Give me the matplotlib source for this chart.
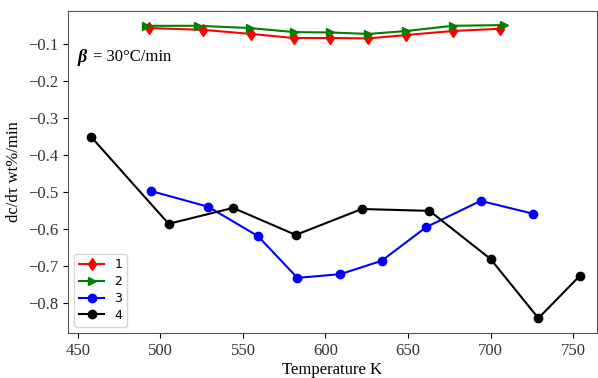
import matplotlib
matplotlib.use("Agg")
import matplotlib.pyplot as plt

# series 1 (red) and 2 (green)
t1 = [493, 526, 555, 581, 603, 626, 649, 677, 706]
r1 = [-0.057, -0.062, -0.073, -0.084, -0.084, -0.085, -0.076, -0.065, -0.059]
t2 = [491, 523, 554, 581, 603, 626, 649, 677, 708]
r2 = [-0.051, -0.051, -0.057, -0.068, -0.069, -0.073, -0.065, -0.051, -0.049]

# series 3 (blue)
t3 = [494, 529, 559, 583, 609, 634, 661, 694, 726]
r3 = [-0.497, -0.540, -0.619, -0.732, -0.722, -0.686, -0.595, -0.524, -0.559]

# series 4 (black)
t4 = [458, 505, 544, 582, 622, 663, 700, 729, 754]
r4 = [-0.351, -0.586, -0.543, -0.616, -0.546, -0.551, -0.681, -0.841, -0.727]

SERIF = ["Liberation Serif", "DejaVu Serif"]

fig = plt.figure(figsize=(5.98, 3.78), dpi=100)
ax = fig.add_axes([68 / 598, 1 - 333 / 378, 529 / 598, 322 / 378])

ax.plot(t1, r1, color="red", marker="d", markersize=6, lw=1.5, label="1")
ax.plot(t2, r2, color="green", marker=">", markersize=6, lw=1.5, label="2")
ax.plot(t3, r3, color="blue", marker="o", markersize=6, lw=1.5, label="3")
ax.plot(t4, r4, color="black", marker="o", markersize=6, lw=1.5, label="4")

ax.set_xlim(444, 764.5)
ax.set_ylim(-0.881, -0.011)
ax.set_xticks([450, 500, 550, 600, 650, 700, 750])
ax.set_yticks([-0.1, -0.2, -0.3, -0.4, -0.5, -0.6, -0.7, -0.8])

for lbl in ax.get_xticklabels() + ax.get_yticklabels():
    lbl.set_family(SERIF)
    lbl.set_fontsize(12)
    lbl.set_color("#333333")

for s in ax.spines.values():
    s.set_color("#555555")

ax.set_xlabel("Temperature K", family=SERIF, fontsize=12, labelpad=2)
ax.set_ylabel("dc/dτ wt%/min", family=SERIF, fontsize=12)

# beta annotation: italic bold symbol, then plain text
ax.text(0.018, 0.857, "β", transform=ax.transAxes, fontsize=13,
        family=SERIF, style="italic", weight="bold", va="center")
ax.text(0.047, 0.857, "= 30°C/min", transform=ax.transAxes,
        fontsize=12, family=SERIF, va="center")

ax.legend(loc="lower left", fontsize=9, handlelength=2, labelspacing=0.3,
          borderpad=0.4)

fig.savefig("out.png", dpi=100)
